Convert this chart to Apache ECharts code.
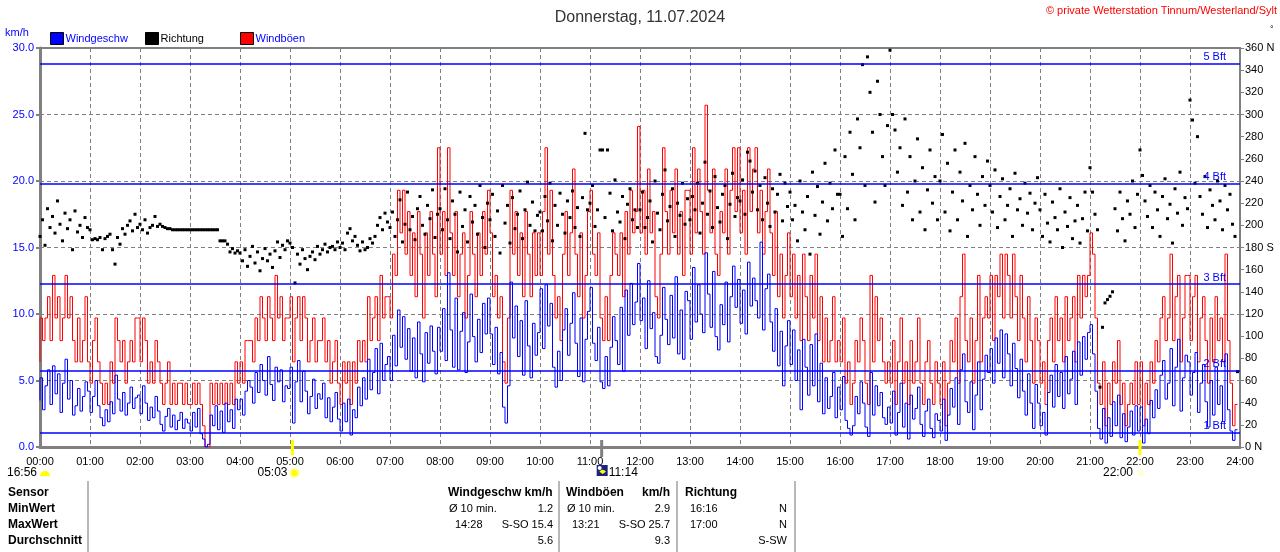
<!DOCTYPE html>
<html><head><meta charset="utf-8">
<script src="https://cdn.jsdelivr.net/npm/echarts/dist/echarts.min.js"></script>
<style>html,body{margin:0;padding:0;background:#fff}#c{width:1280px;height:552px}</style>
</head><body><div id="c"></div>
<script>
// sample interval (minutes) of the logged values
const sampleStepMinutes = 3;

// Windgeschw (km/h), one value per 3 minutes, one row per hour
const windSpeed = [
3.5,5.2,2.8,4.6,5.8,3.2,6.1,4.0,5.5,2.6,4.8,6.6,3.6,5.0,2.4,3.1,4.4,2.7,3.8,4.9,
4.2,2.6,3.8,5.0,3.1,2.2,1.6,2.8,1.9,3.4,2.5,5.4,3.6,2.7,4.1,2.4,3.3,4.5,2.9,3.7,
3.9,2.5,4.6,3.3,2.0,3.0,2.2,3.8,2.7,1.7,1.2,2.3,2.9,1.5,2.4,1.3,2.0,2.6,1.4,2.1,
1.8,1.2,2.6,1.5,2.9,1.0,0.6,0.0,0.2,2.4,1.6,3.1,1.3,2.7,1.1,3.3,1.9,2.8,1.4,3.6,
2.8,3.6,2.4,4.2,5.0,4.5,3.3,5.6,4.1,6.2,5.0,3.9,6.8,4.7,3.5,6.0,4.9,5.8,3.4,4.6,
4.4,6.0,1.8,4.9,6.5,3.4,5.7,4.2,2.5,3.8,5.1,2.9,4.0,3.6,4.8,2.2,3.7,1.9,3.0,4.1,
2.1,1.2,3.3,1.9,3.6,0.9,2.8,2.2,4.5,3.1,5.2,3.6,6.6,4.3,5.6,7.4,4.0,7.8,5.0,6.2,
6.8,5.0,8.4,6.1,10.3,7.5,9.8,6.6,8.9,5.7,8.2,5.2,9.4,7.0,4.9,8.6,6.3,9.1,7.2,5.5,
9.0,7.2,10.4,6.5,13.1,8.8,6.0,11.2,5.8,8.7,10.1,5.6,7.9,11.5,8.3,6.4,9.6,7.1,10.8,8.5,
11.2,8.5,6.2,9.0,5.5,7.1,3.0,1.8,4.6,12.4,8.2,10.6,6.8,9.5,5.4,11.0,7.6,5.2,9.3,6.9,
8.6,11.9,7.4,12.2,9.1,10.8,6.0,4.5,7.2,5.0,8.8,10.4,6.9,9.3,11.6,7.8,5.3,9.7,4.9,8.1,
10.2,12.0,7.8,6.5,9.0,4.9,4.4,6.8,4.6,7.5,9.8,8.0,6.2,10.5,5.7,11.8,8.4,12.3,9.2,10.9,
13.8,9.5,11.2,7.4,12.5,8.9,10.1,6.8,6.3,8.4,12.0,9.6,7.7,11.4,8.2,12.8,7.0,10.3,6.6,11.7,
11.0,8.1,13.5,9.4,12.2,10.0,8.6,14.6,11.5,9.0,13.2,8.3,7.3,10.7,9.2,12.4,7.9,11.3,13.6,10.5,
12.6,9.3,11.8,8.5,13.9,10.6,12.7,11.0,9.7,15.4,8.8,11.9,13.0,9.4,7.2,10.4,6.1,8.7,4.6,7.6,
9.5,6.2,8.8,5.0,7.3,2.8,8.1,6.0,3.9,7.7,4.6,8.5,3.4,6.3,2.5,5.2,2.9,3.8,5.6,2.2,
4.5,2.8,5.3,2.0,1.4,0.9,1.6,3.8,2.5,4.9,3.3,1.5,0.8,5.6,2.4,4.6,3.1,4.1,2.2,1.7,
3.0,1.8,4.2,0.9,2.6,4.8,1.5,3.3,0.6,3.9,2.1,2.9,4.5,1.7,0.8,2.7,3.6,1.4,0.7,2.5,
2.0,1.2,3.6,0.5,2.4,4.4,3.0,5.2,1.7,5.8,7.0,3.4,2.6,4.9,1.3,3.9,6.4,2.8,5.1,6.9,
5.6,7.4,4.8,8.2,6.3,8.8,5.2,8.5,7.0,4.6,7.8,5.9,3.7,6.6,4.2,2.4,5.5,3.3,1.4,4.7,
3.3,1.6,2.6,0.9,4.1,5.4,3.0,6.2,3.8,5.6,2.9,6.8,4.0,5.1,7.2,3.2,7.9,5.4,8.3,6.6,
8.6,9.2,7.0,4.2,1.4,0.6,2.9,0.3,2.2,0.8,3.4,1.6,3.9,0.7,2.5,0.4,1.5,2.7,0.9,3.1,
1.2,3.0,0.3,2.1,1.0,3.5,2.2,4.3,2.9,5.4,6.5,3.6,4.8,7.4,3.1,6.0,8.1,2.7,5.2,6.9,
6.4,3.9,5.6,7.1,2.6,4.8,6.2,3.4,1.5,5.0,2.4,6.0,3.2,4.6,1.9,7.0,2.8,1.2,0.5,1.3
];

// Windböen (km/h)
const windGust = [
6.4,9.7,8.0,9.7,11.3,8.0,12.9,9.7,11.3,8.0,9.7,12.9,9.7,11.3,8.0,6.4,9.7,6.4,8.0,11.3,
6.4,4.8,8.0,9.7,6.4,4.8,3.2,4.8,3.2,6.4,4.8,9.7,8.0,6.4,8.0,4.8,6.4,8.0,6.4,9.7,
9.7,6.4,9.7,8.0,4.8,6.4,4.8,8.0,6.4,4.8,3.2,4.8,6.4,3.2,4.8,3.2,4.8,4.8,3.2,4.8,
3.2,3.2,4.8,3.2,4.8,3.2,1.6,0,0,4.8,3.2,4.8,3.2,4.8,3.2,4.8,3.2,4.8,3.2,6.4,
4.8,6.4,4.8,8.0,8.0,8.0,6.4,9.7,8.0,11.3,9.7,8.0,11.3,9.7,8.0,12.9,9.7,11.3,8.0,9.7,
9.7,11.3,6.4,9.7,11.3,8.0,11.3,9.7,6.4,8.0,9.7,6.4,8.0,8.0,9.7,6.4,8.0,4.8,6.4,8.0,
4.8,3.2,6.4,4.8,6.4,3.2,6.4,4.8,8.0,6.4,8.0,6.4,11.3,8.0,9.7,11.3,8.0,12.9,9.7,11.3,
11.3,9.7,14.5,12.9,19.3,16.1,19.3,14.5,17.7,12.9,16.1,11.3,17.7,14.5,9.7,16.1,12.9,17.7,14.5,11.3,
22.5,14.5,17.7,12.9,22.5,16.1,12.9,17.7,11.3,14.5,16.1,9.7,12.9,17.7,14.5,11.3,16.1,12.9,17.7,14.5,
19.3,16.1,11.3,12.9,9.7,11.3,6.4,4.8,9.7,19.3,14.5,17.7,12.9,16.1,11.3,17.7,14.5,11.3,16.1,12.9,
16.1,12.9,17.7,22.5,14.5,19.3,12.9,9.7,11.3,8.0,14.5,17.7,12.9,16.1,20.9,14.5,11.3,16.1,9.7,12.9,
17.7,19.3,14.5,12.9,16.1,9.7,8.0,11.3,8.0,12.9,16.1,14.5,12.9,16.1,11.3,17.7,14.5,19.3,16.1,17.7,
24.1,16.1,19.3,14.5,20.9,16.1,17.7,11.3,9.7,14.5,22.5,17.7,14.5,19.3,16.1,20.9,14.5,17.7,12.9,19.3,
19.3,14.5,22.5,16.1,20.9,17.7,14.5,25.7,19.3,16.1,20.9,14.5,12.9,17.7,16.1,20.9,14.5,19.3,22.5,17.7,
22.5,16.1,19.3,14.5,22.5,17.7,20.9,22.5,16.1,19.3,14.5,17.7,20.9,16.1,12.9,17.7,11.3,14.5,9.7,12.9,
16.1,11.3,14.5,9.7,12.9,8.0,14.5,11.3,8.0,12.9,9.7,14.5,8.0,11.3,6.4,9.7,6.4,8.0,11.3,6.4,
8.0,6.4,9.7,4.8,6.4,3.2,4.8,8.0,6.4,9.7,8.0,4.8,3.2,12.9,6.4,11.3,8.0,9.7,6.4,4.8,
6.4,4.8,8.0,3.2,6.4,9.7,4.8,6.4,3.2,8.0,4.8,6.4,9.7,4.8,3.2,6.4,8.0,4.8,3.2,6.4,
4.8,3.2,6.4,1.6,4.8,8.0,6.4,9.7,4.8,11.3,14.5,8.0,6.4,9.7,4.8,8.0,12.9,6.4,9.7,11.3,
9.7,12.9,8.0,12.9,11.3,14.5,9.7,14.5,12.9,9.7,14.5,11.3,8.0,12.9,9.7,6.4,11.3,8.0,4.8,9.7,
8.0,4.8,6.4,3.2,8.0,9.7,6.4,11.3,8.0,9.7,6.4,11.3,8.0,9.7,11.3,6.4,12.9,9.7,12.9,11.3,
12.9,16.1,14.5,9.7,4.8,3.2,6.4,1.6,4.8,3.2,6.4,4.8,8.0,3.2,4.8,1.6,3.2,4.8,3.2,6.4,
3.2,6.4,1.6,4.8,3.2,6.4,4.8,8.0,6.4,9.7,11.3,8.0,9.7,14.5,8.0,11.3,12.9,6.4,9.7,12.9,
12.9,8.0,11.3,12.9,6.4,9.7,11.3,8.0,4.8,9.7,6.4,11.3,8.0,9.7,6.4,14.5,8.0,4.8,1.6,3.2
];

// Richtung (degrees)
const windDir = [
190,205,182,215,198,208,193,222,201,186,211,197,205,178,213,194,200,189,207,198,
196,187,188,187,189,178,188,190,192,178,165,189,183,197,192,200,204,195,210,198,
201,196,205,193,198,200,208,199,201,199,198,197,197,196,196,196,196,196,196,196,
196,196,196,196,196,196,196,196,196,196,196,196,186,186,186,183,176,179,175,177,
175,168,178,163,172,181,166,176,159,170,179,168,174,162,177,185,171,182,178,186,
184,180,148,174,165,178,170,160,172,176,169,181,174,178,183,176,180,181,178,185,
180,184,178,193,197,186,190,182,177,185,178,180,188,184,190,200,207,196,211,203,
198,212,190,205,223,185,201,230,196,208,187,215,226,200,192,218,206,232,189,210,
215,196,233,205,188,222,210,176,230,199,214,185,226,203,218,192,236,207,180,220,
205,228,190,213,175,236,202,218,184,225,197,210,231,188,214,239,200,221,195,209,
212,195,226,204,238,186,218,200,229,210,193,222,207,231,198,216,190,225,283,214,
220,236,199,214,268,268,207,268,229,195,241,212,203,226,188,219,233,205,214,198,
214,230,198,207,222,185,240,211,196,228,250,204,217,233,190,220,209,238,201,224,
205,226,214,238,193,220,257,210,231,198,244,216,203,228,236,188,219,247,208,225,
222,241,210,266,258,230,249,214,236,205,243,220,199,233,212,228,246,204,238,217,
230,205,218,186,240,212,196,226,174,248,209,235,192,221,256,204,238,215,268,228,
228,190,262,215,284,246,205,296,270,345,236,352,320,284,221,330,300,262,236,290,
358,300,286,248,270,218,296,230,262,205,240,278,212,252,196,232,268,220,244,205,
240,282,212,256,195,230,268,205,248,222,274,190,236,214,262,228,200,244,218,258,
236,212,250,198,226,242,205,218,233,190,247,214,224,200,238,211,229,196,220,243,
214,190,228,202,185,221,207,196,233,180,212,199,225,188,204,218,184,206,230,195,
252,230,210,196,54,108,130,133,136,140,215,195,230,206,186,222,210,240,198,228,
268,245,222,208,236,198,230,214,190,226,242,206,219,184,233,211,248,200,225,215,
313,295,238,280,226,210,244,198,232,218,205,240,222,196,236,214,228,201,190,68
];

// Beaufort reference lines (km/h) and their labels
const bftLevels = [1.08, 5.76, 12.24, 19.8, 28.8];
const bftLabels = ['1 Bft', '2 Bft', '3 Bft', '4 Bft', '5 Bft'];

// x tick labels (one per hour)
const hourLabels = ['00:00','01:00','02:00','03:00','04:00','05:00','06:00','07:00','08:00','09:00','10:00','11:00','12:00',
  '13:00','14:00','15:00','16:00','17:00','18:00','19:00','20:00','21:00','22:00','23:00','24:00'];
const dirSpecialLabels = {0: '0 N', 180: '180 S', 360: '360 N'};

// sun / moon events shown under the time axis (minute of day)
const eventTimes = ['16:56', '05:03', '11:14', '22:00'];
const eventMinutes = [0, 303, 674, 1320];
const eventKinds = ['moon', 'sunrise', 'moonrise', 'sunset'];

// statistics table
const tableRowNames = ['Sensor', 'MinWert', 'MaxWert', 'Durchschnitt'];
const speedStats = { head: 'Windgeschw km/h', min: ['Ø 10 min.', '1.2'], max: ['14:28', 'S-SO 15.4'], avg: '5.6' };
const gustStats = { head: 'Windböen', unit: 'km/h', min: ['Ø 10 min.', '2.9'], max: ['13:21', 'S-SO 25.7'], avg: '9.3' };
const dirStats = { head: 'Richtung', min: ['16:16', 'N'], max: ['17:00', 'N'], avg: 'S-SW' };

const FONT = '"Liberation Sans", Arial, sans-serif';
const BLUE = '#0000ff';
const GRAY = '#808080';

const toPairs = arr => arr.map((v, i) => [i * sampleStepMinutes, v]);

const chart = echarts.init(document.getElementById('c'), null, { renderer: 'canvas' });

function legend(name, left, color) {
  return {
    left: left, top: 32, padding: 0, itemWidth: 13, itemHeight: 12, itemGap: 4, icon: 'rect', selectedMode: false,
    itemStyle: { borderColor: '#000', borderWidth: 1, opacity: 1 },
    textStyle: { color: color, fontSize: 11, fontFamily: FONT, padding: [0, 0, 0, -3] },
    data: [name]
  };
}

chart.setOption({
  animation: false,
  backgroundColor: '#fff',
  title: {
    text: 'Donnerstag, 11.07.2024', left: 'center', top: 5,
    textStyle: { fontSize: 16, fontWeight: 'normal', color: '#333', fontFamily: FONT }
  },
  legend: [
    legend('Windgeschw', 50, BLUE),
    legend('Richtung', 145, '#000'),
    legend('Windböen', 240, BLUE)
  ],
  grid: { left: 40, top: 48, width: 1200, height: 399, show: true, borderColor: GRAY, borderWidth: 2, containLabel: false },
  xAxis: {
    type: 'value', min: 0, max: 1440, interval: 60,
    axisLine: { show: true, onZero: false, lineStyle: { color: GRAY, width: 3 } },
    axisTick: { show: false },
    axisLabel: { formatter: v => hourLabels[Math.round(v / 60)], color: '#000', fontSize: 11, fontFamily: FONT, margin: 9, showMaxLabel: true, showMinLabel: true },
    splitLine: { show: true, lineStyle: { color: GRAY, type: [4, 3], width: 1 } }
  },
  yAxis: [
    {
      type: 'value', min: 0, max: 30, interval: 5, position: 'left',
      axisLine: { show: true, lineStyle: { color: GRAY, width: 3 } },
      axisTick: { show: true, length: 4, lineStyle: { color: GRAY, width: 2 } },
      axisLabel: { formatter: v => v.toFixed(1), color: BLUE, fontSize: 11, fontFamily: FONT, margin: 6 },
      splitLine: { show: true, lineStyle: { color: GRAY, type: [4, 3], width: 1 } }
    },
    {
      type: 'value', min: 0, max: 360, interval: 20, position: 'right',
      axisLine: { show: true, lineStyle: { color: GRAY, width: 2 } },
      axisTick: { show: true, length: 4, lineStyle: { color: GRAY, width: 1 } },
      axisLabel: { formatter: v => dirSpecialLabels[v] || String(v), color: '#000', fontSize: 11, fontFamily: FONT, margin: 5 },
      splitLine: { show: false }
    }
  ],
  series: [
    {
      name: 'bft', type: 'line', data: [], z: 1, silent: true,
      markLine: {
        silent: true, symbol: ['none', 'none'], animation: false,
        lineStyle: { color: BLUE, width: 1.5, type: 'solid' },
        label: { show: true, position: 'insideEndTop', formatter: '{b}', color: BLUE, fontSize: 11, fontFamily: FONT, distance: [14, 1] },
        data: bftLevels.map((v, i) => ({ yAxis: v, name: bftLabels[i] }))
      }
    },
    {
      name: 'Windböen', type: 'line', step: 'start', data: toPairs(windGust), z: 2,
      showSymbol: false, symbol: 'none', color: '#ff0000',
      lineStyle: { color: '#ff0000', width: 1 }
    },
    {
      name: 'Windgeschw', type: 'line', step: 'start', data: toPairs(windSpeed), z: 3,
      showSymbol: false, symbol: 'none', color: BLUE,
      lineStyle: { color: BLUE, width: 1 }
    },
    {
      name: 'Richtung', type: 'scatter', yAxisIndex: 1, data: toPairs(windDir), z: 4,
      symbol: 'rect', symbolSize: 3, color: '#000', itemStyle: { color: '#000', opacity: 1 }
    }
  ]
});

// ---- annotations and table built as graphic elements ----
const g = [];
function txt(x, y, s, opts) {
  opts = opts || {};
  g.push({
    type: 'text', x: x, y: y, silent: true, z: 10,
    style: {
      text: s, fill: opts.fill || '#000',
      font: (opts.bold ? 'bold ' : '') + (opts.size || 11) + 'px ' + FONT,
      textAlign: opts.align || 'left', textVerticalAlign: 'middle'
    }
  });
}
function vline(x, y1, y2, color, w) {
  g.push({ type: 'line', silent: true, z: 10, shape: { x1: x, y1: y1, x2: x, y2: y2 }, style: { stroke: color, lineWidth: w } });
}

// header texts
txt(5, 33, 'km/h', { fill: BLUE });
txt(1277, 11, '© private Wetterstation Tinnum/Westerland/Sylt', { fill: '#ff0000', align: 'right' });
txt(1270, 30, '°', { size: 9 });

// event markers under the x axis
const iconY = 473;
eventMinutes.forEach((m, i) => {
  const px = chart.convertToPixel({ gridIndex: 0 }, [m, 0]);
  const x = px[0];
  const kind = eventKinds[i];
  if (kind === 'moon') {
    g.push({ type: 'sector', silent: true, z: 10, shape: { cx: x + 5, cy: iconY + 3, r: 5, r0: 0, startAngle: Math.PI, endAngle: 2 * Math.PI }, style: { fill: '#ffff00' } });
    txt(x - 3, iconY, eventTimes[i], { align: 'right', size: 12 });
  } else if (kind === 'sunrise') {
    vline(x, 440, 455, '#ffff00', 3);
    g.push({ type: 'circle', silent: true, z: 10, shape: { cx: x + 2, cy: iconY, r: 5 }, style: { fill: '#ffff99' } });
    g.push({ type: 'circle', silent: true, z: 11, shape: { cx: x + 2, cy: iconY, r: 3.2 }, style: { fill: '#ffff00' } });
    txt(x - 5, iconY, eventTimes[i], { align: 'right', size: 12 });
  } else if (kind === 'moonrise') {
    vline(x, 440, 457, GRAY, 3);
    g.push({ type: 'rect', silent: true, z: 10, shape: { x: x - 5, y: iconY - 8, width: 11, height: 11 }, style: { fill: '#1a237e' } });
    g.push({ type: 'circle', silent: true, z: 11, shape: { cx: x - 2, cy: iconY - 5, r: 2 }, style: { fill: '#ffffff' } });
    g.push({ type: 'sector', silent: true, z: 11, shape: { cx: x + 1, cy: iconY + 1, r: 4, r0: 0, startAngle: Math.PI * 1.2, endAngle: Math.PI * 1.8 }, style: { fill: '#ffff00' } });
    txt(x + 7, iconY, eventTimes[i], { size: 12 });
  } else {
    vline(x, 440, 455, '#ffff00', 3);
    g.push({ type: 'circle', silent: true, z: 10, shape: { cx: x + 1, cy: iconY, r: 3 }, style: { fill: '#ffffcc' } });
    txt(x - 7, iconY, eventTimes[i], { align: 'right', size: 12 });
  }
});

// statistics table
const rowY = [493, 509, 525, 541];
tableRowNames.forEach((n, i) => txt(8, rowY[i], n, { bold: true, size: 12 }));
[88, 559, 677, 795].forEach(x => vline(x, 481, 552, '#a0a0a0', 1.5));

txt(448, rowY[0], speedStats.head, { bold: true, size: 12 });
txt(449, rowY[1], speedStats.min[0]);
txt(553, rowY[1], speedStats.min[1], { align: 'right' });
txt(455, rowY[2], speedStats.max[0]);
txt(553, rowY[2], speedStats.max[1], { align: 'right' });
txt(553, rowY[3], speedStats.avg, { align: 'right' });

txt(566, rowY[0], gustStats.head, { bold: true, size: 12 });
txt(670, rowY[0], gustStats.unit, { bold: true, size: 12, align: 'right' });
txt(567, rowY[1], gustStats.min[0]);
txt(670, rowY[1], gustStats.min[1], { align: 'right' });
txt(572, rowY[2], gustStats.max[0]);
txt(670, rowY[2], gustStats.max[1], { align: 'right' });
txt(670, rowY[3], gustStats.avg, { align: 'right' });

txt(685, rowY[0], dirStats.head, { bold: true, size: 12 });
txt(690, rowY[1], dirStats.min[0]);
txt(787, rowY[1], dirStats.min[1], { align: 'right' });
txt(690, rowY[2], dirStats.max[0]);
txt(787, rowY[2], dirStats.max[1], { align: 'right' });
txt(787, rowY[3], dirStats.avg, { align: 'right' });

chart.setOption({ graphic: { elements: g } });
</script>
</body></html>
